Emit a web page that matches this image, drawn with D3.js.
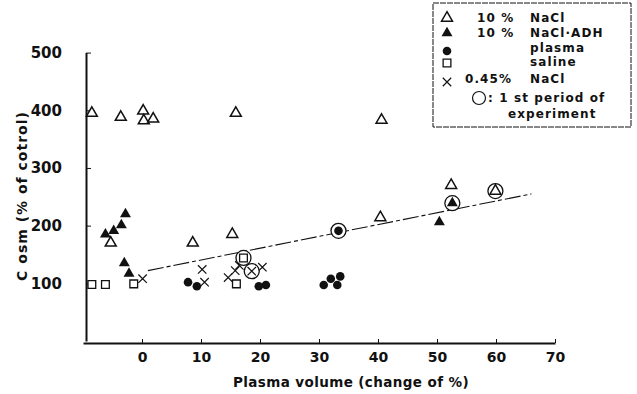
<!DOCTYPE html>
<html>
<head>
<meta charset="utf-8">
<script src="https://cdn.jsdelivr.net/npm/d3@7"></script>
<style>
  body { margin: 0; background: #fff; }
  text { font-family: "DejaVu Sans", sans-serif; font-weight: bold; fill: #111; }
</style>
</head>
<body>
<div id="root"></div>
<script>
// data: [plasma volume change %, Cosm % of control]
const naclPoints = [[-8.5, 395], [-3.6, 388], [0.2, 399], [0.3, 382], [1.9, 385], [15.9, 395],
  [40.6, 383], [-5.3, 170], [8.6, 170], [15.3, 185], [40.4, 214], [52.4, 270]];
const naclAdhPoints = [[-6.2, 185], [-4.8, 191], [-3.5, 201], [-2.8, 220], [-3.0, 135], [-2.2, 117], [50.4, 206]];
const plasmaPoints = [[7.8, 102], [9.3, 95], [19.8, 95], [21.0, 97], [30.8, 97], [32.0, 108], [33.1, 97], [33.6, 112]];
const salinePoints = [[-8.5, 98], [-6.2, 98], [-1.4, 99], [16.0, 99]];
const halfNaclPoints = [[0.1, 108], [10.2, 124], [10.6, 102], [14.6, 110], [15.8, 122], [16.5, 131], [20.4, 128]];
// first period of experiment (circled)
const firstPeriod = [
  { kind: "nacl", x: 59.9, y: 260 },
  { kind: "naclAdh", x: 52.6, y: 239 },
  { kind: "plasma", x: 33.3, y: 191 },
  { kind: "saline", x: 17.2, y: 144 },
  { kind: "halfNacl", x: 18.6, y: 121 },
];
const trendX = [1, 66];
const trendY = [122, 255];
const xTicks = [0, 10, 20, 30, 40, 50, 60, 70];
const yTicks = [100, 200, 300, 400, 500];

const width = 637;
const height = 394;
const ink = "#111";

const svg = d3.select("#root").append("svg")
  .attr("width", width)
  .attr("height", height);

const x = d3.scaleLinear([-10, 70], [83, 555]);
const y = d3.scaleLinear([0, 500], [341, 52.6]);

// axes
const xAxis = svg.append("g")
  .attr("transform", "translate(0, 343)")
  .call(d3.axisBottom(x).tickValues(xTicks).tickSizeInner(-4).tickSizeOuter(0).tickPadding(9));
xAxis.select(".domain").attr("stroke", ink).attr("stroke-width", 2);
xAxis.selectAll(".tick line").attr("stroke", ink);
xAxis.selectAll(".tick text").attr("font-size", 14).attr("fill", ink);

const yAxis = svg.append("g")
  .attr("transform", "translate(86, 0)")
  .call(d3.axisLeft(y).tickValues(yTicks).tickSizeInner(-5).tickSizeOuter(0).tickPadding(24));
yAxis.select(".domain").attr("stroke", ink).attr("stroke-width", 2);
yAxis.selectAll(".tick line").attr("stroke", ink);
yAxis.selectAll(".tick text").attr("font-size", 15).attr("fill", ink);

svg.append("text")
  .attr("x", 351)
  .attr("y", 387)
  .attr("text-anchor", "middle")
  .attr("font-size", 13.5)
  .attr("letter-spacing", 0.4)
  .text("Plasma volume (change of %)");

svg.append("text")
  .attr("transform", "translate(27, 196) rotate(-90)")
  .attr("text-anchor", "middle")
  .attr("font-size", 14)
  .attr("letter-spacing", 1)
  .text("C osm (% of cotrol)");

// regression line
svg.append("line")
  .attr("x1", x(trendX[0])).attr("y1", y(trendY[0]))
  .attr("x2", x(trendX[1])).attr("y2", y(trendY[1]))
  .attr("stroke", ink)
  .attr("stroke-width", 1.1)
  .attr("stroke-dasharray", "16,3,4,3");

// marker drawing
const triangle = d3.symbol(d3.symbolTriangle, 52)();
const circle = d3.symbol(d3.symbolCircle, 58)();
const square = d3.symbol(d3.symbolSquare, 60)();
const cross = d3.symbol(d3.symbolTimes, 48)();

function mark(g, kind, cx, cy) {
  const p = g.append("path").attr("transform", `translate(${cx}, ${cy})`);
  if (kind === "nacl") p.attr("d", triangle).attr("fill", "#fff").attr("stroke", ink).attr("stroke-width", 1.5);
  if (kind === "naclAdh") p.attr("d", triangle).attr("fill", ink);
  if (kind === "plasma") p.attr("d", circle).attr("fill", ink);
  if (kind === "saline") p.attr("d", square).attr("fill", "#fff").attr("stroke", ink).attr("stroke-width", 1.3);
  if (kind === "halfNacl") p.attr("d", cross).attr("fill", "none").attr("stroke", ink).attr("stroke-width", 1.2);
  return p;
}

const pts = svg.append("g");
const series = [
  ["nacl", naclPoints],
  ["naclAdh", naclAdhPoints],
  ["plasma", plasmaPoints],
  ["saline", salinePoints],
  ["halfNacl", halfNaclPoints],
];
series.forEach(([kind, data]) => {
  data.forEach(d => mark(pts, kind, x(d[0]), y(d[1])));
});

firstPeriod.forEach(d => {
  pts.append("circle")
    .attr("cx", x(d.x)).attr("cy", y(d.y)).attr("r", 7.5)
    .attr("fill", "#fff").attr("stroke", ink).attr("stroke-width", 1.3);
  mark(pts, d.kind, x(d.x), y(d.y));
});

// legend
const legend = svg.append("g");
legend.append("rect")
  .attr("x", 433).attr("y", 3).attr("width", 198).attr("height", 124)
  .attr("fill", "none").attr("stroke", ink).attr("stroke-width", 1)
  .attr("stroke-dasharray", "6,1");

const legendMarks = [
  { kind: "nacl", y: 18 },
  { kind: "naclAdh", y: 33 },
  { kind: "plasma", y: 51 },
  { kind: "saline", y: 63 },
  { kind: "halfNacl", y: 82 },
];
legendMarks.forEach(d => mark(legend, d.kind, 447, d.y));
legend.append("circle")
  .attr("cx", 479).attr("cy", 98).attr("r", 6.5)
  .attr("fill", "none").attr("stroke", ink).attr("stroke-width", 1.2);

const legendTexts = [
  { x: 477, y: 18, t: "10 %" },
  { x: 530, y: 18, t: "NaCl" },
  { x: 477, y: 33, t: "10 %" },
  { x: 530, y: 33, t: "NaCl·ADH" },
  { x: 530, y: 48, t: "plasma" },
  { x: 530, y: 62, t: "saline" },
  { x: 465, y: 79, t: "0.45%" },
  { x: 530, y: 79, t: "NaCl" },
  { x: 488, y: 98, t: ": 1 st period of" },
  { x: 508, y: 114, t: "experiment" },
];
legend.selectAll("text.lab")
  .data(legendTexts)
  .join("text")
  .attr("class", "lab")
  .attr("x", d => d.x)
  .attr("y", d => d.y)
  .attr("dy", "0.35em")
  .attr("font-size", 12)
  .attr("letter-spacing", 1.1)
  .text(d => d.t);
</script>
</body>
</html>
